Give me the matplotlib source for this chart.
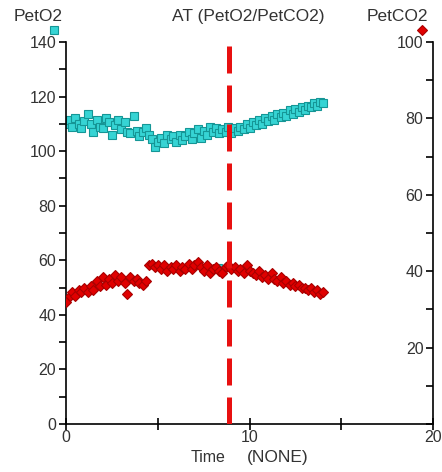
import matplotlib
matplotlib.use("Agg")
import matplotlib.pyplot as plt
from matplotlib.ticker import MultipleLocator

plt.rcParams["font.family"] = ["Liberation Sans", "DejaVu Sans"]

# breath-by-breath samples (minutes)
time_min = [0.0, 0.2, 0.35, 0.5, 0.7, 0.85, 1.0, 1.2, 1.35, 1.5, 1.7, 1.85,
            2.0, 2.2, 2.35, 2.5, 2.7, 2.85, 3.0, 3.2, 3.35, 3.5, 3.7, 3.85,
            4.0, 4.2, 4.35, 4.5, 4.7, 4.85, 5.0, 5.2, 5.35, 5.5, 5.7, 5.85,
            6.0, 6.2, 6.35, 6.5, 6.7, 6.85, 7.0, 7.2, 7.35, 7.5, 7.7, 7.85,
            8.0, 8.2, 8.35, 8.5, 8.7, 8.85, 9.0, 9.2, 9.35, 9.5, 9.7, 9.85,
            10.0, 10.2, 10.35, 10.5, 10.7, 10.85, 11.0, 11.2, 11.35, 11.5, 11.7, 11.85,
            12.0, 12.2, 12.35, 12.5, 12.7, 12.85, 13.0, 13.2, 13.35, 13.5, 13.7, 13.85,
            14.0]

pet_o2 = [110, 111.5, 109, 112, 110, 108.5, 111, 113.5, 110, 107, 111.5, 109,
          108.5, 112, 110.5, 106, 109.5, 111.5, 108, 110.5, 107, 106.5, 113, 107.5,
          105.5, 107, 108.5, 106, 104.5, 101.5, 103.5, 105, 103, 106, 104.5, 105.5,
          103.5, 106, 104, 105.5, 107, 104.5, 106.5, 108, 105, 107.5, 106, 109,
          107, 108.5, 106.5, 108, 107, 109, 106.5, 108.5, 107.5, 109, 108, 110,
          108.5, 110.5, 109.5, 111.5, 110, 112, 111, 113, 111.5, 113.5, 112.5, 114,
          113, 115, 113.5, 115.5, 114.5, 116, 115, 116.5, 116, 117.5, 116.5, 118,
          117.5]

pet_co2 = [32, 33.5, 34.5, 33.5, 35, 34.5, 35.5, 34.5, 36, 35, 37.5, 36,
           38.5, 36.5, 38, 37, 39, 37.5, 38.5, 37, 34, 38.5, 37.5, 38,
           37, 36.5, 37.5, 41.5, 42, 41, 41.5, 40.5, 41.5, 40, 41, 40.5,
           41.5, 40, 41, 40.5, 42, 40.5, 41.5, 42.5, 41, 40, 41.5, 39.5,
           40.5, 41, 40, 39.5, 41, 41.5, 40.5, 41, 40, 40.5, 39.5, 41.5,
           40, 39.5, 39, 40, 38.5, 39, 38, 39.5, 38, 37.5, 38.5, 37,
           37.5, 36.5, 37, 36, 36.5, 35.5, 35.5, 35, 35.5, 34.5, 35, 34,
           34.5]

# one stray PetO2 reading
stray_time = [8.3]
stray_o2 = [57]

at_time = 8.9

CYAN = "#36D4D4"
CYAN_EDGE = "#159696"
RED = "#E00000"
RED_EDGE = "#A80000"
TEXT = "#333333"
FS = 11.5

fig = plt.figure(figsize=(4.42, 4.72), dpi=100)
ax = fig.add_axes([0.149, 0.1017, 0.831, 0.8093])
ax2 = ax.twinx()

ax.plot(stray_time, stray_o2, ls="none", marker="s", ms=6.3,
        mfc=CYAN, mec=CYAN_EDGE, mew=0.8, zorder=2)
ax.plot(time_min, pet_o2, ls="none", marker="s", ms=6.3,
        mfc=CYAN, mec=CYAN_EDGE, mew=0.8, zorder=2)
ax2.plot(time_min, pet_co2, ls="none", marker="D", ms=5.2,
         mfc=RED, mec=RED_EDGE, mew=0.8, zorder=2)
ax2.axvline(at_time, color="#E81010", lw=3.6, dashes=(5.4, 2.4), zorder=3)

ax.set_xlim(0, 20)
ax.set_ylim(0, 140)
ax2.set_ylim(0, 100)

for a in (ax, ax2):
    a.spines["top"].set_visible(False)
    a.patch.set_visible(False)

ax.spines["right"].set_visible(False)
ax.spines["left"].set_linewidth(1.2)
ax.spines["bottom"].set_linewidth(1.2)

# x axis: ticks every 5, labels every 10
ax.set_xticks([0, 5, 10, 15, 20])
ax.set_xticklabels(["0", "", "10", "", "20"])
ax.tick_params(axis="x", direction="inout", length=9, width=1.2,
               labelsize=FS, labelcolor=TEXT, pad=0)

ax.yaxis.set_major_locator(MultipleLocator(20))
ax.yaxis.set_minor_locator(MultipleLocator(10))
ax.tick_params(axis="y", which="both", direction="out", length=5, width=1.2,
               labelsize=FS, labelcolor=TEXT, pad=2)

# PetCO2 scale drawn on a spine at the right edge, labels facing inward
ax2.spines["right"].set_visible(False)
ax2.spines["bottom"].set_visible(False)
ax2.spines["left"].set_position(("axes", 1.0))
ax2.spines["left"].set_linewidth(1.2)
ax2.yaxis.tick_left()
ax2.yaxis.set_minor_locator(MultipleLocator(10))
ax2.set_yticks([20, 40, 60, 80, 100])
ax2.tick_params(axis="y", which="both", direction="out", length=5, width=1.2,
                labelsize=FS, labelcolor=TEXT, pad=2)

fig.text(0.086, 0.964, "PetO2", ha="center", va="center", fontsize=12.5, color=TEXT)
fig.text(0.561, 0.964, "AT (PetO2/PetCO2)", ha="center", va="center", fontsize=12.5, color=TEXT)
fig.text(0.899, 0.964, "PetCO2", ha="center", va="center", fontsize=12.5, color=TEXT)
fig.text(0.471, 0.030, "Time", ha="center", va="center", fontsize=11.5, color=TEXT)
fig.text(0.629, 0.030, "(NONE)", ha="center", va="center", fontsize=12.5, color=TEXT)

# series keys next to the axis names
fig.lines.append(plt.Line2D([0.122], [0.936], transform=fig.transFigure, marker="s", ms=6.3,
                            mfc=CYAN, mec=CYAN_EDGE, mew=0.8, ls="none"))
fig.lines.append(plt.Line2D([0.955], [0.936], transform=fig.transFigure, marker="D", ms=5.2,
                            mfc=RED, mec=RED_EDGE, mew=0.8, ls="none"))

fig.savefig("out.png", dpi=100, facecolor="white")
